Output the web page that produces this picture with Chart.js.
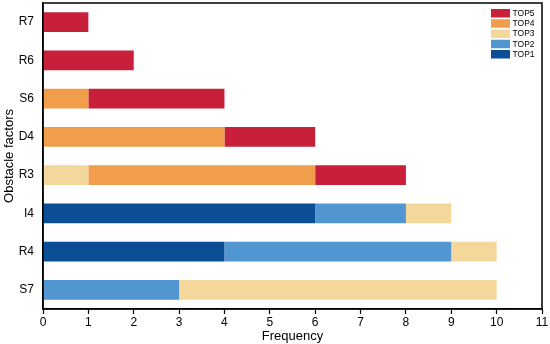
<!DOCTYPE html>
<html>
<head>
<meta charset="utf-8">
<script src="https://cdn.jsdelivr.net/npm/chart.js@4.4.0/dist/chart.umd.min.js"></script>
<style>
  html, body { margin: 0; padding: 0; background: #fff; }
  #c { display: block; }
</style>
</head>
<body>
<canvas id="c" width="550" height="344"></canvas>
<script>
var factors = ["R7", "R6", "S6", "D4", "R3", "I4", "R4", "S7"];
var top1 = [0, 0, 0, 0, 0, 6, 4, 0];
var top2 = [0, 0, 0, 0, 0, 2, 5, 3];
var top3 = [0, 0, 0, 0, 1, 1, 1, 7];
var top4 = [0, 0, 1, 4, 5, 0, 0, 0];
var top5 = [1, 2, 3, 2, 2, 0, 0, 0];
var xTicks = [0, 1, 2, 3, 4, 5, 6, 7, 8, 9, 10, 11];

var FONT = "'Liberation Sans', Arial, sans-serif";

// box round the plot + legend in the top right corner
var framePlugin = {
    id: 'frame',
    afterDraw: function (chart) {
        var ctx = chart.ctx, a = chart.chartArea;
        ctx.save();
        ctx.strokeStyle = '#000';
        ctx.lineWidth = 1.5;
        ctx.strokeRect(a.left, a.top, a.right - a.left, a.bottom - a.top);

        var ds = chart.data.datasets.slice().reverse();
        ctx.font = '8.5px ' + FONT;
        ctx.textBaseline = 'middle';
        for (var i = 0; i < ds.length; i++) {
            var y = 13 + i * 10.25;
            ctx.fillStyle = ds[i].backgroundColor;
            ctx.fillRect(491, y - 4, 19, 8.5);
            ctx.fillStyle = '#000';
            ctx.fillText(ds[i].label, 512.5, y + 0.5);
        }
        ctx.restore();
    }
};

new Chart(document.getElementById('c'), {
    type: 'bar',
    data: {
        labels: factors,
        datasets: [
            { label: 'TOP1', data: top1, backgroundColor: '#0C4E96' },
            { label: 'TOP2', data: top2, backgroundColor: '#5196D1' },
            { label: 'TOP3', data: top3, backgroundColor: '#F3D79B' },
            { label: 'TOP4', data: top4, backgroundColor: '#F09E4C' },
            { label: 'TOP5', data: top5, backgroundColor: '#C8203B' }
        ]
    },
    options: {
        indexAxis: 'y',
        responsive: false,
        animation: false,
        layout: { padding: { top: 3, right: 8, left: 2, bottom: 0 } },
        datasets: { bar: { barPercentage: 0.52, categoryPercentage: 1.0, borderWidth: 0 } },
        plugins: {
            legend: { display: false },
            tooltip: { enabled: false }
        },
        scales: {
            x: {
                stacked: true,
                min: 0,
                max: 11,
                afterBuildTicks: function (axis) {
                    axis.ticks = xTicks.map(function (v) { return { value: v }; });
                },
                afterFit: function (axis) {
                    axis.height = 35;
                    axis.paddingLeft = 0;
                },
                grid: { drawOnChartArea: false, tickLength: 5, color: '#000', tickWidth: 1.2 },
                border: { color: '#000', width: 1.5 },
                ticks: { color: '#000', font: { family: FONT, size: 12 }, padding: 1, maxRotation: 0 },
                title: { display: true, text: 'Frequency', color: '#000', font: { family: FONT, size: 13 }, padding: { top: 0, bottom: 0 } }
            },
            y: {
                stacked: true,
                afterFit: function (axis) {
                    axis.width = 41;
                    axis.paddingTop = 0;
                    axis.paddingBottom = 0;
                },
                grid: { display: false, drawTicks: false },
                border: { color: '#000', width: 1.5 },
                ticks: { color: '#000', font: { family: FONT, size: 12 }, padding: 9 },
                title: { display: true, text: 'Obstacle factors', color: '#000', font: { family: FONT, size: 13 }, padding: { top: 0, bottom: 2 } }
            }
        }
    },
    plugins: [framePlugin]
});
</script>
</body>
</html>
